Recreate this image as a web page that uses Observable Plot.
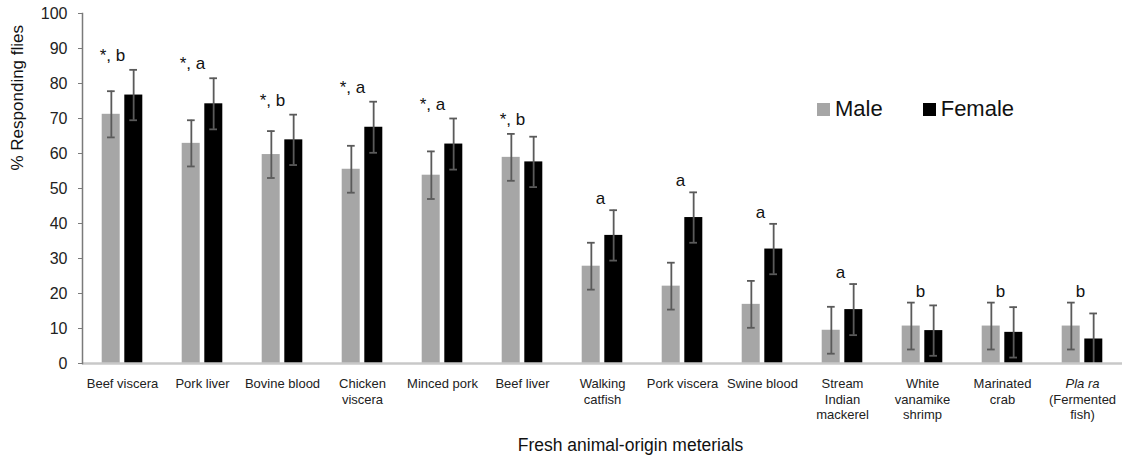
<!DOCTYPE html>
<html><head><meta charset="utf-8">
<script src="https://cdn.jsdelivr.net/npm/d3@7"></script>
<script src="https://cdn.jsdelivr.net/npm/@observablehq/plot@0.6"></script>
<style>
body{margin:0;background:#fff;font-family:"Liberation Sans",Arial,sans-serif;}
#wrap{position:relative;width:1125px;height:463px;}
#legend{position:absolute;left:817px;top:96px;display:flex;align-items:flex-start;font-size:22px;color:#111;line-height:26px;}
#legend .item{display:flex;align-items:flex-start;}
#legend .sw{width:13px;height:13px;margin-top:7px;margin-right:5px;}
</style></head><body><div id="wrap"></div>
<script>
const materials = ["Beef viscera","Pork liver","Bovine blood","Chicken\nviscera","Minced pork","Beef liver","Walking\ncatfish","Pork viscera","Swine blood","Stream\nIndian\nmackerel","White\nvanamike\nshrimp","Marinated\ncrab","Pla ra\n(Fermented\nfish)"];
const male      = [71.2, 62.9, 59.7, 55.5, 53.8, 58.9, 27.8, 22.1, 16.9, 9.5, 10.7, 10.7, 10.7];
const maleErr   = [6.6, 6.6, 6.7, 6.7, 6.8, 6.7, 6.7, 6.7, 6.7, 6.7, 6.7, 6.7, 6.7];
const female    = [76.7, 74.2, 63.9, 67.5, 62.7, 57.6, 36.6, 41.7, 32.7, 15.4, 9.4, 8.9, 7.0];
const femaleErr = [7.2, 7.3, 7.2, 7.3, 7.3, 7.2, 7.2, 7.2, 7.2, 7.3, 7.2, 7.2, 7.3];
const labels    = ["*, b","*, a","*, b","*, a","*, a","*, b","a","a","a","a","b","b","b"];
const yTicks    = [0,10,20,30,40,50,60,70,80,90,100];
const series    = ["Male","Female"];
const colors    = ["#a6a6a6","#000000"];

const rows = materials.map((m,i)=>({material:m, male:male[i], maleErr:maleErr[i], female:female[i], femaleErr:femaleErr[i], label:labels[i],
  top: Math.max(male[i]+maleErr[i], female[i]+femaleErr[i])}));

const errStroke = "#5a5a5a";
const ew = 1.8;
const plot = Plot.plot({
  width: 1125, height: 463,
  marginLeft: 82, marginRight: 3, marginTop: 13, marginBottom: 100,
  style: {fontFamily: '"Liberation Sans", Arial, sans-serif', background: "#fff"},
  x: {domain: materials, padding: 0},
  y: {domain: [0,100]},
  marks: [
    Plot.barY(rows, {x:"material", y:"male", fill: colors[0], insetLeft:19.7, insetRight:42.3}),
    Plot.barY(rows, {x:"material", y:"female", fill: colors[1], insetLeft:42.3, insetRight:19.7}),
    Plot.ruleX(rows, {x:"material", y1:d=>d.male-d.maleErr, y2:d=>d.male+d.maleErr, dx:-11.15, stroke:errStroke, strokeWidth:ew}),
    Plot.ruleX(rows, {x:"material", y1:d=>Math.max(0,d.female-d.femaleErr), y2:d=>d.female+d.femaleErr, dx:11.15, stroke:errStroke, strokeWidth:ew}),
    Plot.tickY(rows, {x:"material", y:d=>d.male+d.maleErr, insetLeft:25, insetRight:47.3, stroke:errStroke, strokeWidth:ew}),
    Plot.tickY(rows, {x:"material", y:d=>d.male-d.maleErr, insetLeft:25, insetRight:47.3, stroke:errStroke, strokeWidth:ew}),
    Plot.tickY(rows, {x:"material", y:d=>d.female+d.femaleErr, insetLeft:47.3, insetRight:25, stroke:errStroke, strokeWidth:ew}),
    Plot.tickY(rows.filter(d=>d.female-d.femaleErr>0), {x:"material", y:d=>d.female-d.femaleErr, insetLeft:47.3, insetRight:25, stroke:errStroke, strokeWidth:ew}),
    Plot.ruleY([0], {stroke:"#c8c8c8", strokeWidth:2.5}),
    Plot.frame({anchor:"left", stroke:"#7a7a7a", strokeWidth:1.5}),
    Plot.axisY({ticks: yTicks, tickSize:4, tickPadding:11, fontSize:16, stroke:"#7a7a7a", color:"#222", label:null}),
    Plot.axisX({tickSize:0, tickPadding:13, fontSize:13, lineHeight:1.22, color:"#222", label:null}),
    Plot.text(rows.filter(d=>d.label.startsWith("*")), {x:"material", y:"top", text:"label", dx:-10, dy:-9, lineAnchor:"bottom", fontSize:17, fill:"#111"}),
    Plot.text(rows.filter(d=>!d.label.startsWith("*")), {x:"material", y:"top", text:"label", dx:-2, dy:-6, lineAnchor:"bottom", fontSize:17, fill:"#111"}),
    Plot.text(["% Responding flies"], {frameAnchor:"left", rotate:-90, dx:-65, dy:-18, fontSize:17, fill:"#111"}),
    Plot.text(["Fresh animal-origin meterials"], {frameAnchor:"bottom", dx:28, dy:87, fontSize:17.5, fill:"#111"})
  ]
});
d3.select(plot).selectAll("tspan, text").each(function(){
  const t = this.childNodes.length===1 && this.firstChild.nodeType===3 ? this.textContent : null;
  if (t === "Pla ra") d3.select(this).style("font-style","italic");
});
const wrap = document.getElementById("wrap");
wrap.appendChild(plot);
const legend = document.createElement("div");
legend.id = "legend";
legend.innerHTML = series.map((s,i)=>`<div class="item" style="margin-right:${i===0?40:0}px"><div class="sw" style="background:${colors[i]}"></div><span>${s}</span></div>`).join("");
wrap.appendChild(legend);
</script>
</body></html>
